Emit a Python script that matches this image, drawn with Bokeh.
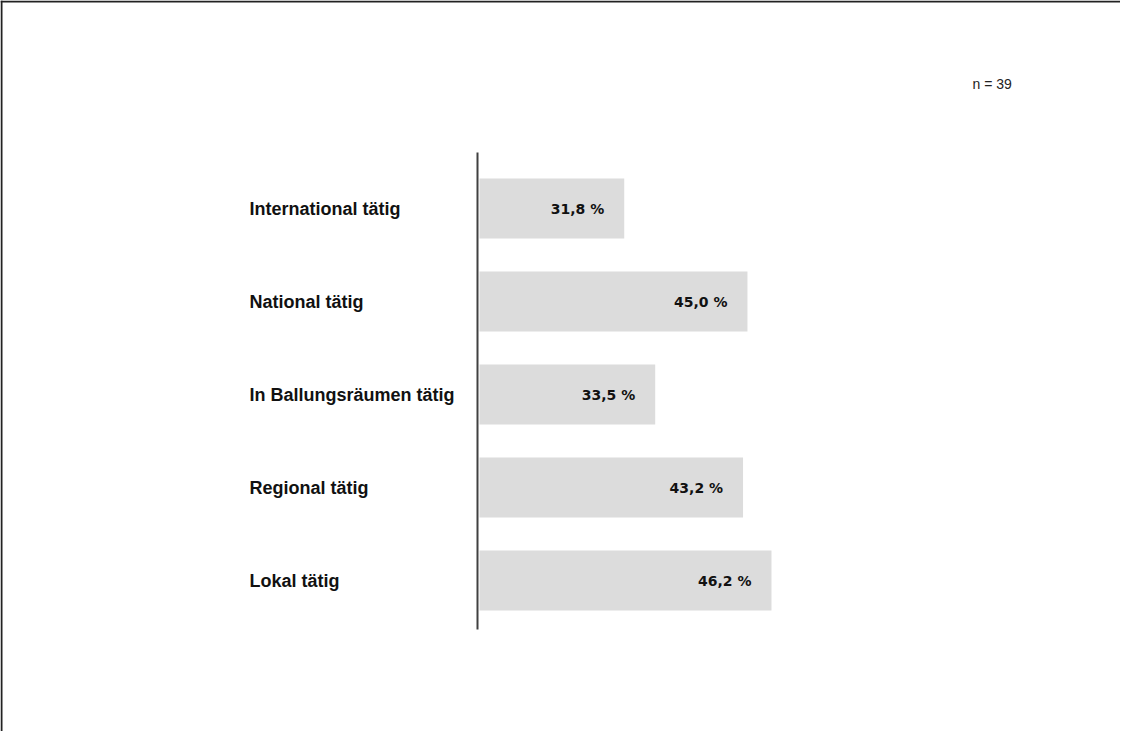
from bokeh.plotting import figure
from bokeh.models import ColumnDataSource, Range1d, Span
from bokeh.core.properties import value
from bokeh.embed import file_html
from bokeh.resources import INLINE

# ---- data ----
categories = ["International tätig", "National tätig", "In Ballungsräumen tätig",
              "Regional tätig", "Lokal tätig"]
percent_values = [31.8, 45.0, 33.5, 43.2, 46.2]          # printed labels
bar_lengths = [22.9, 42.4, 27.8, 41.7, 46.2]             # bar lengths as drawn in the source
sample_note = "n = 39"

# ---- layout ----
W, H = 1120, 731
PXU = 6.32          # pixels per x unit
X0 = 479            # canvas x of value 0
PITCH = 93          # pixels per category
Y0 = 580            # canvas y of the last category centre

n = len(categories)
ypos = [n - 1 - i for i in range(n)]
labels = [f"{v:.1f} %".replace(".", ",") for v in percent_values]

src = ColumnDataSource(dict(cat=categories, y=ypos, length=bar_lengths, lab=labels))

p = figure(width=W, height=H, output_backend="svg", toolbar_location=None,
           x_range=Range1d(-X0 / PXU, (W - X0) / PXU),
           y_range=Range1d(-(H - Y0) / PITCH, Y0 / PITCH),
           x_axis_location=None, y_axis_location=None,
           min_border=0, outline_line_color=None, tools="")
p.xgrid.visible = False
p.ygrid.visible = False
p.background_fill_color = "white"
p.border_fill_color = "white"

# bars
p.hbar(y="y", left=0, right="length", height=0.645, source=src,
       fill_color="#DCDCDC", line_color=None)

# value labels
p.text(x="length", y="y", text="lab", source=src, x_offset=-20,
       text_align="right", text_baseline="middle",
       text_font=value("DejaVu Sans"), text_font_style="bold",
       text_font_size="14px", text_color="#111111")

# category labels
p.text(x=(249 - X0) / PXU, y="y", text="cat", source=src,
       text_align="left", text_baseline="middle",
       text_font=value("Liberation Sans"), text_font_style="bold",
       text_font_size="18px", text_color="#111111")

# vertical axis line
p.segment(x0=-2 / PXU, y0=(Y0 - 152) / PITCH, x1=-2 / PXU, y1=(Y0 - 629) / PITCH,
          line_color="#404040", line_width=2)

# sample note
p.text(x=[(972 - X0) / PXU], y=[(Y0 - 83) / PITCH], text=[sample_note],
       text_align="left", text_baseline="middle",
       text_font=value("Liberation Sans"), text_font_size="14px",
       text_color="#222222")

# frame border (left and top)
p.add_layout(Span(location=-X0 / PXU + 1 / PXU, dimension="height",
                  line_color="#222222", line_width=2))
p.add_layout(Span(location=Y0 / PITCH - 1 / PITCH, dimension="width",
                  line_color="#222222", line_width=2))

open("out.html", "w").write(file_html(p, INLINE))
